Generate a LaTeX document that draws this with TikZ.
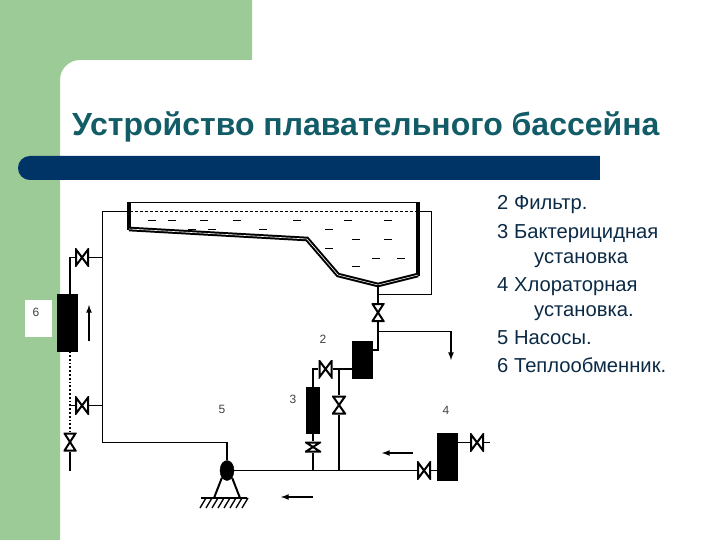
\documentclass[tikz,border=0pt]{standalone}
\usepackage{fontspec}
\setmainfont{Liberation Sans}
\usepackage{xcolor}
\usetikzlibrary{arrows,shapes.geometric}
\definecolor{slidegreen}{HTML}{9CCB98}
\definecolor{barblue}{HTML}{003366}
\definecolor{titleteal}{HTML}{115C66}
\definecolor{legendblue}{HTML}{0B2A45}

\tikzset{
  pipe/.style={line width=1.8pt},
  flow/.style={line width=1.6pt,-latex},
  unit/.style={draw=black,fill=black,inner sep=0pt},
  hvalve/.style={inner sep=0pt,minimum width=#1,minimum height=18pt,path picture={
      \draw[line width=2pt] ([shift={(1pt,-1pt)}]path picture bounding box.north west)
        -- ([shift={(-1pt,1pt)}]path picture bounding box.south east)
        -- ([shift={(-1pt,-1pt)}]path picture bounding box.north east)
        -- ([shift={(1pt,1pt)}]path picture bounding box.south west) -- cycle;}},
  vvalve/.style={inner sep=0pt,minimum width=#1,minimum height=19pt,path picture={
      \draw[line width=2pt] ([shift={(1pt,-1pt)}]path picture bounding box.north west)
        -- ([shift={(-1pt,-1pt)}]path picture bounding box.north east)
        -- ([shift={(1pt,1pt)}]path picture bounding box.south west)
        -- ([shift={(-1pt,1pt)}]path picture bounding box.south east) -- cycle;}},
  number/.style={font=\fontsize{12}{12}\selectfont,text=black!75,inner sep=0pt},
  legend/.style={anchor=base west,font=\fontsize{20.2}{20.2}\selectfont,text=legendblue,inner sep=0pt}
}

\begin{document}
\begin{tikzpicture}[x=1pt,y=-1pt]
  \useasboundingbox (0,0) rectangle (720,540);

  % background
  \fill[slidegreen] (0,0) -- (252,0) -- (252,60) -- (80,60) to[out=180,in=90] (60,80) -- (60,540) -- (0,540) -- cycle;
  \fill[barblue,rounded corners=11.9pt] (18,156) rectangle (612,180);
  \fill[white] (600,150) rectangle (620,185);
  \node[anchor=base west,inner sep=0pt,text=titleteal,font=\fontsize{32}{32}\selectfont\bfseries] (title) at (72,135.5) {Устройство плавательного бассейна};

  % legend
  \node[legend] (l2)  at (497,210) {2 Фильтр.};
  \node[legend] (l3)  at (497,239) {3 Бактерицидная};
  \node[legend] (l3b) at (534,263) {установка};
  \node[legend] (l4)  at (497,291) {4 Хлораторная};
  \node[legend] (l4b) at (534,316) {установка.};
  \node[legend] (l5)  at (497,344) {5 Насосы.};
  \node[legend] (l6)  at (497,372) {6 Теплообменник.};

  % basin
  \draw[line width=1.2pt] (127,202.5) -- (420,202.5);
  \draw[line width=.8pt,dash pattern=on 3pt off 2pt] (130,211.5) -- (416,211.5);
  \draw[line width=3.6pt] (129,202) -- (129,230);
  \draw[line width=3.6pt] (418,202) -- (418,276);
  \draw[line width=2pt,double=white,double distance=.6pt] (129,229) -- (307,239) -- (338,275) -- (378,285) -- (418,275);
  \foreach \x/\y in {152/220,172/220,204/220,237/220,297/220,348/220,388/220,
                     192/229,212/229,263/229,329/229,
                     356/239,388/239,329/248,376/258,401/258,356/266}
    \draw[line width=.9pt] (\x-4,\y) -- (\x+4,\y);

  % units
  \node[unit,minimum width=20pt,minimum height=57pt] (exch) at (66.7,322.5) {};
  \node[unit,minimum width=20pt,minimum height=37pt] (filter) at (362.5,359.5) {};
  \node[unit,minimum width=13pt,minimum height=46pt] (uv) at (313,410) {};
  \node[unit,minimum width=20pt,minimum height=47pt] (chlor) at (447,457) {};
  \node[unit,ellipse,minimum width=14pt,minimum height=20pt] (pump) at (227,470.5) {};

  % valves
  \node[hvalve=14pt] (v1) at (82,257.5) {};
  \node[hvalve=14pt] (v2) at (82,405.5) {};
  \node[vvalve=13pt] (v3) at (70,442) {};
  \node[vvalve=13pt] (v4) at (378,312.5) {};
  \node[hvalve=14pt] (v5) at (325.5,369) {};
  \node[vvalve=14pt] (v6) at (339,405) {};
  \node[vvalve=16pt,minimum height=11pt] (v7) at (313,447) {};
  \node[hvalve=14pt] (v8) at (424,470.5) {};
  \node[hvalve=14pt] (v9) at (477,442.5) {};

  % junctions
  \coordinate (inl) at (102.5,211.5);
  \coordinate (kneeL) at (102.5,442.5);
  \coordinate (drain) at (378,285);
  \coordinate (over) at (431.5,211.5);
  \coordinate (tee) at (378,331.5);
  \coordinate (out) at (451,360);
  \coordinate (tail) at (70,470.5);
  \coordinate (end4) at (490,442.5);
  \coordinate (j1) at (339,369);
  \coordinate (j2) at (339,470.5);
  \coordinate (j3) at (313,470.5);
  \coordinate (j4) at (102.5,257.5);
  \coordinate (j5) at (102.5,405.5);
  \coordinate (j6) at (70,405.5);
  \coordinate (j7) at (378,294);
  \coordinate (j8) at (372.5,350);
  \coordinate (j9) at (378,350);

  % pipes
  \draw[pipe] (127,211.5) -- (inl) -- (kneeL) -| (pump.north);
  \draw[pipe] (420,211.5) -- (over);
  \draw[line width=1pt] (over) |- (j7);
  \draw[pipe] (drain) -- (v4.north);
  \draw[pipe] (v4.south) -- (tee);
  \draw[pipe] (tee) -- (j9) -- (j8);
  \draw[flow] (tee) -| (out);
  \draw[pipe] (filter.west |- v5) -- (v5.east);
  \draw[pipe] (v5.west) -| (uv.north);
  \draw[pipe] (j1) -- (v6.north);
  \draw[pipe] (v6.south) -- (j2);
  \draw[pipe] (uv.south) -- (v7.north);
  \draw[pipe] (v7.south) -- (j3);
  \draw[pipe] (pump.east) -- (v8.west);
  \draw[pipe] (v8.east) -- (chlor.west |- v8);
  \draw[pipe] (chlor.east |- v9) -- (v9.west);
  \draw[pipe] (v9.east) -- (end4);
  \draw[pipe] (exch.north -| v3) |- (v1.west);
  \draw[pipe] (v1.east) -- (j4);
  \draw[pipe] (j6) -- (v2.west);
  \draw[pipe] (v2.east) -- (j5);
  \draw[pipe,dotted] (exch.south -| v3) -- (v3.north);
  \draw[pipe] (v3.south) -- (tail);

  % pump stand
  \coordinate (footL) at (214,498);
  \coordinate (footR) at (240,498);
  \draw[line width=2pt] (pump.south west) -- (footL);
  \draw[line width=2pt] (pump.south east) -- (footR);
  \draw[line width=1.4pt] (201,498) -- (247,498);
  \foreach \x in {207,213,...,249}
    \draw[line width=1.3pt] (\x-1,498) -- (\x-7,508);

  % flow arrows
  \coordinate (a1) at (89,341);
  \coordinate (a2) at (89,305);
  \coordinate (a3) at (413,453);
  \coordinate (a4) at (382,453);
  \coordinate (a5) at (313,497);
  \coordinate (a6) at (281,497);
  \draw[flow] (a1) -- (a2);
  \draw[flow] (a3) -- (a4);
  \draw[flow] (a5) -- (a6);

  % numbers
  \node[fill=white,minimum width=27pt,minimum height=37pt,inner sep=0pt] (box6) at (38.7,318.3) {};
  \node[number] (n6) at (36,312) {6};
  \node[number] (n2) at (323,339) {2};
  \node[number] (n3) at (293,399) {3};
  \node[number] (n4) at (446,410) {4};
  \node[number] (n5) at (222,409) {5};
\end{tikzpicture}
\end{document}
